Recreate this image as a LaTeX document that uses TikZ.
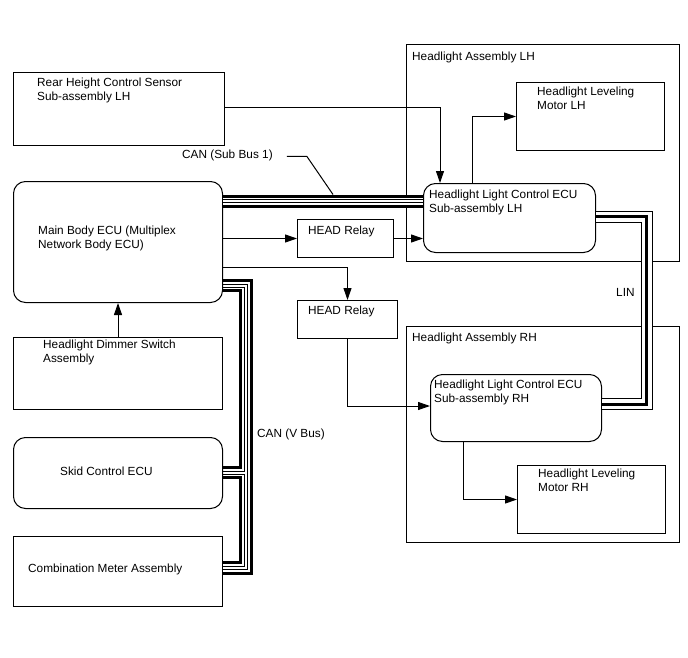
\documentclass[tikz,border=0pt]{standalone}
\usepackage{fontspec}
\setmainfont{Liberation Sans}
\usepackage{tikz}
\usetikzlibrary{arrows.meta}

\begin{document}
\begin{tikzpicture}[x=1pt, y=-1pt,
  box/.style={draw, line width=1pt, anchor=north west, inner sep=0pt},
  ecu/.style={box, rounded corners=12pt},
  txt/.style={anchor=north west, inner sep=0pt, align=left,
    font=\fontsize{11.8}{13.8}\selectfont, execute at begin node={\rule{0pt}{10pt}}},
  arr/.style={line width=1pt, -{Triangle[length=12pt, width=8pt]}},
  thickwire/.style={line width=3pt},
  thinwire/.style={line width=1pt},
  canbus/.style={line width=13pt, postaction={draw, white, line width=7pt},
    postaction={draw, black, line width=4pt}, postaction={draw, white, line width=2pt}},
  linbus/.style={line width=12pt, postaction={draw, white, line width=10pt},
    postaction={draw, black, line width=3pt}}]
  \useasboundingbox (0,0) rectangle (688,658);

  % Left column
  \node[box, minimum width=211pt, minimum height=73pt] (rear) at (13,72) {};
  \node[ecu, minimum width=209pt, minimum height=121pt] (main) at (13,181) {};
  \node[box, minimum width=209pt, minimum height=72pt] (dimmer) at (13,337) {};
  \node[ecu, minimum width=209pt, minimum height=71pt] (skid) at (13,437) {};
  \node[box, minimum width=209pt, minimum height=70pt] (comb) at (13,536) {};
  % Relays
  \node[box, minimum width=96pt, minimum height=38pt] (relayA) at (297,219) {};
  \node[box, minimum width=100pt, minimum height=38pt] (relayB) at (297,300) {};
  % Headlight LH
  \node[box, minimum width=273pt, minimum height=217pt] (asmLH) at (406,44) {};
  \node[box, minimum width=148pt, minimum height=68pt] (motorLH) at (516,82) {};
  \node[ecu, minimum width=172pt, minimum height=69pt] (ecuLH) at (423,183) {};
  % Headlight RH
  \node[box, minimum width=273pt, minimum height=216pt] (asmRH) at (406,326) {};
  \node[ecu, minimum width=171pt, minimum height=67pt] (ecuRH) at (430,374) {};
  \node[box, minimum width=148pt, minimum height=68pt] (motorRH) at (517,465) {};

  % Texts
  \node[txt] (rearT) at (37,77.5) {Rear Height Control Sensor\\Sub-assembly LH};
  \node[txt] (canSubT) at (182,148) {CAN (Sub Bus 1)};
  \node[txt] (mainT) at (38,225.5) {Main Body ECU (Multiplex\\Network Body ECU)};
  \node[txt] (relayAT) at (308,224) {HEAD Relay};
  \node[txt] (relayBT) at (308,304) {HEAD Relay};
  \node[txt] (dimmerT) at (43,340) {Headlight Dimmer Switch\\Assembly};
  \node[txt] (skidT) at (60,465) {Skid Control ECU};
  \node[txt] (combT) at (28,562) {Combination Meter Assembly};
  \node[txt] (asmLHT) at (412,50) {Headlight Assembly LH};
  \node[txt] (motorLHT) at (537,87) {Headlight Leveling\\Motor LH};
  \node[txt] (ecuLHT) at (429,190) {Headlight Light Control ECU\\Sub-assembly LH};
  \node[txt] (asmRHT) at (412,331) {Headlight Assembly RH};
  \node[txt] (ecuRHT) at (434,380) {Headlight Light Control ECU\\Sub-assembly RH};
  \node[txt] (motorRHT) at (538,469) {Headlight Leveling\\Motor RH};
  \node[txt] (linT) at (616,286) {LIN};
  \node[txt] (canVT) at (257,427) {CAN (V Bus)};

  % Signal lines
  \draw[arr] (dimmer.north) -- (main.south);
  \draw[arr] (main.east |- relayA.west) -- (relayA.west);
  \draw[arr] (relayA.east) -- (ecuLH.west |- relayA.east);
  \draw[arr] (main.east |- 0,267) -| (relayB.north);
  \draw[arr] (relayB.south) |- (ecuRH.west |- 0,406);
  \draw[arr] (rear.east |- 0,108) -| (ecuLH.north -| 440,0);
  \draw[arr] (ecuLH.north -| 472,0) |- (motorLH.west);
  \draw[arr] (ecuRH.south -| 463,0) |- (motorRH.west);

  % CAN (Sub Bus 1)
  \draw[canbus] (main.east |- 0,201) -- (ecuLH.west |- 0,201);
  \draw[line width=1pt] ([xshift=14pt,yshift=-2pt]canSubT.east) -- ++(20,0) -- (333,194.5);

  % LIN
  \draw[linbus] (ecuLH.east |- 0,216.5) -| (646.5,404) -- (ecuRH.east |- 0,404);

  % CAN (V Bus)
  \draw[thickwire] (main.east |- 0,280.4) -| (251,573) -- (comb.east |- 0,573);
  \draw[thinwire] (main.east |- 0,284.1) -| (247.3,569.3) -- (comb.east |- 0,569.3);
  \draw[thinwire] (main.east |- 0,287.1) -| (244.3,471) -- (skid.east |- 0,471);
  \draw[thickwire] (main.east |- 0,290.8) -| (240.6,467.3) -- (skid.east |- 0,467.3);
  \draw[thinwire] (skid.east |- 0,474) -| (244.3,566.3) -- (comb.east |- 0,566.3);
  \draw[thickwire] (skid.east |- 0,477.7) -| (240.6,562.6) -- (comb.east |- 0,562.6);
\end{tikzpicture}
\end{document}
